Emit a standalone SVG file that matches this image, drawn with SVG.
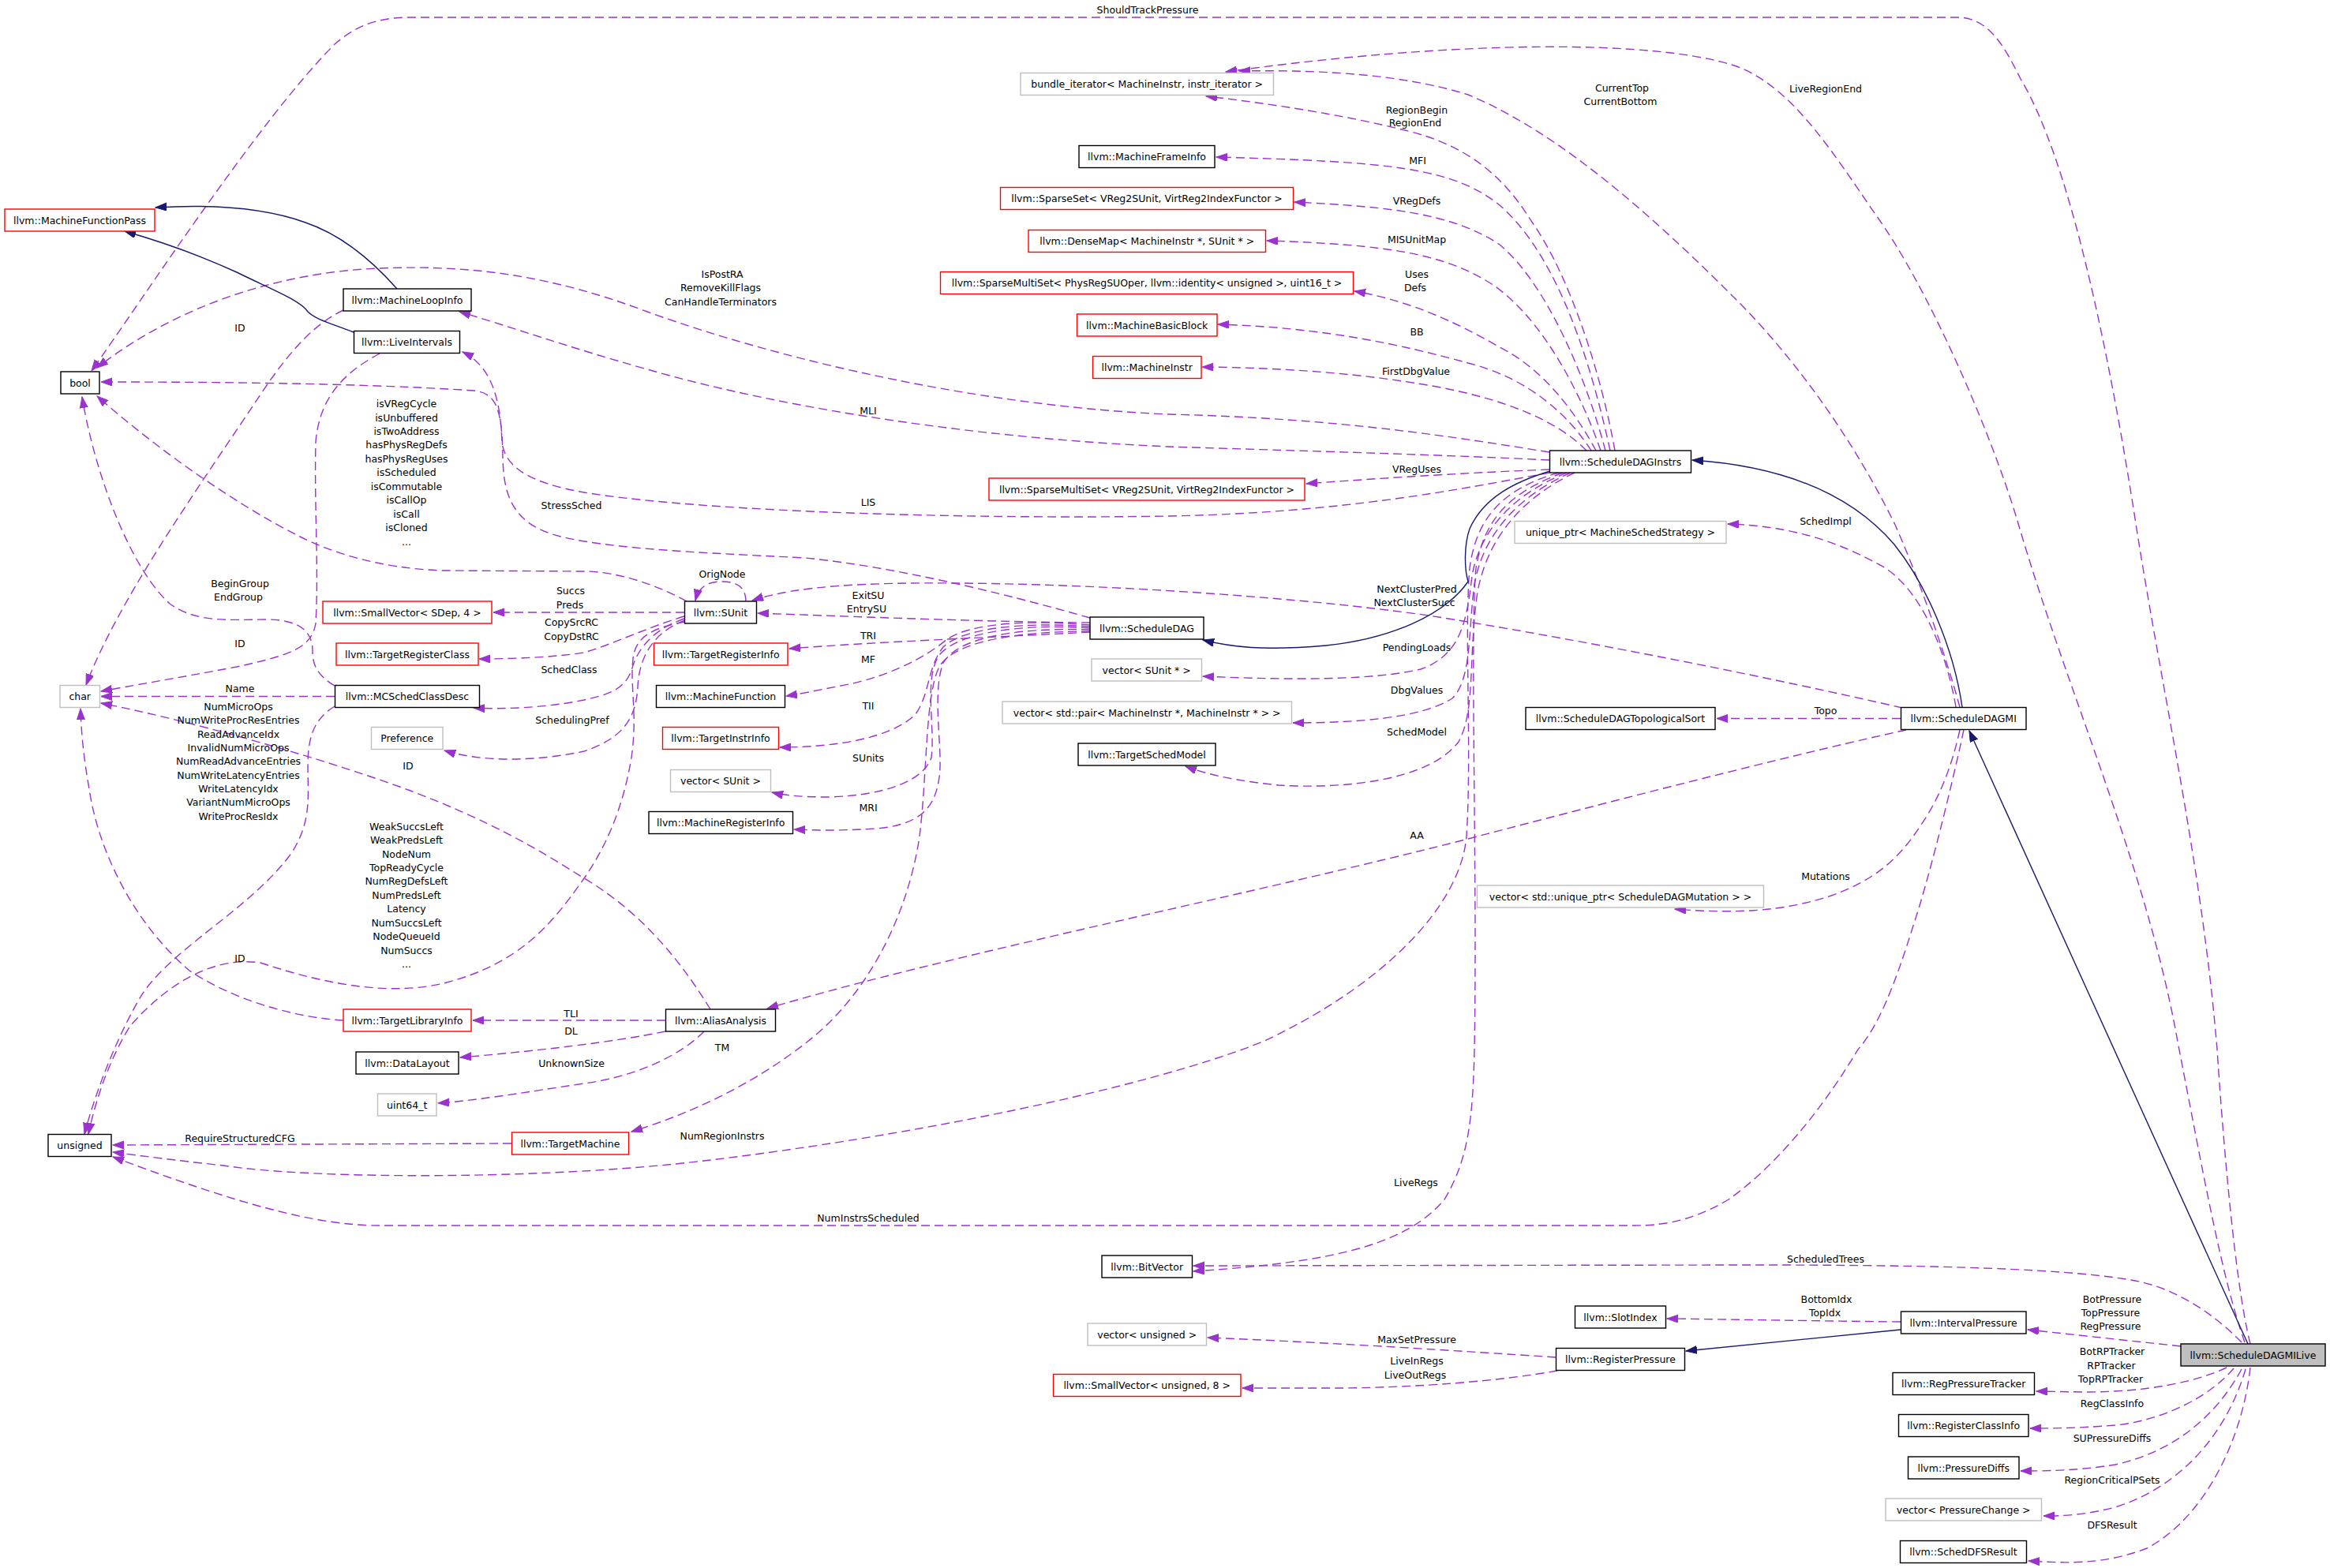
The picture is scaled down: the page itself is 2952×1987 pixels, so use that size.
<svg xmlns="http://www.w3.org/2000/svg" width="2952" height="1987" viewBox="0 0 2952 1987">
<style>
text{font-family:"DejaVu Sans","Liberation Sans",sans-serif;font-size:12.5px;fill:#000;text-anchor:middle}
rect.k{fill:#fff;stroke:#000;stroke-width:1.4}
rect.g{fill:#fff;stroke:#bfbfbf;stroke-width:1.4}
rect.r{fill:#fff;stroke:#ff0000;stroke-width:1.4}
rect.s{fill:#bfbfbf;stroke:#000;stroke-width:1.4}
#edges path.e{fill:none;stroke:#9a32cd;stroke-width:1.4;stroke-dasharray:11,6;marker-end:url(#a)}
#edges path.i{fill:none;stroke:#191970;stroke-width:1.4;marker-end:url(#b)}
</style>
<defs>
<marker id="a" markerUnits="userSpaceOnUse" markerWidth="16" markerHeight="12" refX="14" refY="5" orient="auto"><path d="M0,0 L14,5 L0,10 z" fill="#9a32cd" stroke="#9a32cd" stroke-width="1"/></marker>
<marker id="b" markerUnits="userSpaceOnUse" markerWidth="16" markerHeight="12" refX="14" refY="5" orient="auto"><path d="M0,0 L14,5 L0,10 z" fill="#191970" stroke="#191970" stroke-width="1"/></marker>
</defs>
<rect x="0" y="0" width="2952" height="1987" fill="#fff"/>
<g id="edges">
<path class="e" d="M2851,1703 C2830,1620 2815,1420 2809,1330 C2790,1100 2740,880 2707,670 C2670,430 2620,200 2560,100 C2540,60 2520,22 2480,22 L520,22 C470,22 445,38 424,56 C330,150 180,380 116,470"/>
<path class="e" d="M2844,1701 C2815,1620 2790,1480 2759,1320 C2720,1100 2620,880 2556,660 C2520,540 2440,360 2377,273 C2320,190 2270,110 2200,84 C2100,50 1850,50 1553,91"/>
<path class="e" d="M2840,1701 C2800,1660 2750,1630 2700,1622 C2600,1605 2400,1603 2212,1603 L1512,1604"/>
<path class="e" d="M2763,1706 L2569,1685"/>
<path class="e" d="M2821,1733 C2780,1752 2720,1764 2640,1764 L2580,1763"/>
<path class="e" d="M2830,1734 C2800,1770 2740,1800 2680,1806 C2630,1810 2600,1810 2572,1810"/>
<path class="e" d="M2840,1735 C2810,1790 2760,1838 2680,1856 C2630,1864 2590,1864 2560,1864"/>
<path class="e" d="M2845,1735 C2820,1820 2760,1885 2680,1910 C2640,1920 2615,1921 2589,1921"/>
<path class="e" d="M2851,1733 C2840,1830 2790,1925 2720,1962 C2660,1985 2610,1980 2570,1978"/>
<path class="e" d="M2483,896 C2465,830 2430,730 2401,665 C2340,540 2260,440 2200,380 C2100,280 1980,170 1860,120 C1780,95 1680,88 1570,90"/>
<path class="e" d="M2478,896 C2465,820 2430,740 2380,715 C2320,682 2260,666 2189,664"/>
<path class="e" d="M2410,897 C2250,860 2000,810 1810,780 C1650,757 1400,740 1212,739 C1100,738 1010,742 953,761"/>
<path class="e" d="M2408,910.5 L2175,910.5"/>
<path class="e" d="M2415,925 C2300,950 2100,1000 1860,1063 C1600,1130 1200,1210 972,1278"/>
<path class="e" d="M2483,925 C2472,975 2455,1015 2434,1045 C2405,1090 2375,1115 2320,1135 C2260,1155 2200,1158 2122,1152"/>
<path class="e" d="M2488,925 C2472,1000 2442,1120 2424,1173 C2400,1250 2380,1300 2354,1330 C2300,1420 2240,1485 2190,1520 C2140,1550 2100,1553 2070,1553 L480,1553 C400,1553 300,1525 143,1466"/>
<path class="e" d="M2046,571 C2030,480 1990,350 1940,280 C1900,215 1850,182 1780,165 C1700,145 1600,130 1528,122"/>
<path class="e" d="M2040,571 C2020,480 1980,330 1900,260 C1840,212 1760,205 1541,199"/>
<path class="e" d="M2034,571 C2010,480 1960,360 1900,310 C1840,270 1760,262 1640,256"/>
<path class="e" d="M2028,571 C2000,490 1950,400 1890,360 C1830,322 1760,310 1605,305"/>
<path class="e" d="M2022,571 C2000,530 1960,470 1900,440 C1840,405 1780,380 1716,369"/>
<path class="e" d="M2016,571 C1990,530 1940,480 1860,460 C1780,438 1680,415 1543,411"/>
<path class="e" d="M2010,571 C1970,530 1900,505 1820,490 C1720,472 1620,466 1523,465"/>
<path class="e" d="M1963,573 C1850,555 1700,530 1480,525 C1250,515 1000,460 820,395 C700,350 600,335 480,340 C350,345 220,390 123,466"/>
<path class="e" d="M1963,583 C1800,575 1600,570 1480,566 C1250,556 1000,520 820,468 C720,440 650,415 582,395"/>
<path class="e" d="M1963,595 C1880,598 1760,605 1655,613"/>
<path class="e" d="M1963,599 C1850,620 1700,650 1480,654 C1250,658 900,650 740,624 C690,615 640,600 636,560 C634,510 625,465 586,446"/>
<path class="e" d="M1985,599 C1920,625 1875,670 1865,730 C1858,790 1850,830 1800,848 C1740,862 1640,862 1524,857"/>
<path class="e" d="M1990,599 C1925,628 1880,675 1868,740 C1860,800 1865,860 1840,885 C1800,910 1720,916 1638,916"/>
<path class="e" d="M1995,599 C1930,630 1885,680 1872,750 C1860,830 1870,900 1848,940 C1810,990 1700,1000 1620,995 C1570,990 1530,982 1502,971"/>
<path class="e" d="M1975,599 C1900,620 1870,660 1862,720 C1855,800 1865,950 1858,1060 C1850,1150 1750,1250 1600,1320 C1450,1380 1150,1440 900,1470 C700,1495 400,1495 283,1477 C220,1470 180,1465 143,1460"/>
<path class="e" d="M1980,599 C1910,625 1880,660 1870,720 C1862,800 1872,1100 1868,1330 C1866,1420 1860,1470 1830,1520 C1780,1580 1680,1600 1512,1611"/>
<path class="e" d="M870,762 C830,740 780,724 740,724 L560,723 C480,720 420,700 380,680 C300,640 200,570 123,502"/>
<path class="e" d="M867,776 L625,776"/>
<path class="e" d="M867,781 C820,795 780,815 740,827 C700,833 650,835 607,835"/>
<path class="e" d="M867,784 C820,800 805,830 800,850 C790,875 770,880 740,887 C690,897 640,899 600,897"/>
<path class="e" d="M868,786 C830,800 810,830 808,870 C806,910 790,935 740,952 C680,965 610,966 563,951"/>
<path class="e" d="M868,788 C830,795 805,805 802,835 C798,870 808,905 800,960 C790,1020 770,1070 740,1113 C700,1170 660,1220 566,1245 C500,1262 420,1250 330,1220 C260,1210 200,1260 165,1300 C140,1340 122,1390 112,1437"/>
<path class="e" d="M945,762 C945,745 935,737 914,737 C895,737 885,745 881,761"/>
<path class="e" d="M1381,783 C1300,760 1150,720 1020,707 C880,700 760,695 700,677 C645,660 638,620 637,580 C636,520 630,498 600,495 C450,485 250,484 128,484"/>
<path class="e" d="M1381,789 C1250,788 1100,782 960,777"/>
<path class="e" d="M1381,801 C1250,808 1100,814 1000,822"/>
<path class="e" d="M1381,792 C1300,785 1230,790 1200,810 C1170,835 1120,860 1060,870 C1030,876 1010,880 996,882"/>
<path class="e" d="M1381,794 C1300,788 1220,795 1195,820 C1175,845 1178,880 1160,905 C1130,935 1060,947 988,947"/>
<path class="e" d="M1381,796 C1300,790 1215,800 1190,830 C1170,860 1185,920 1180,960 C1170,990 1120,1008 1050,1010 C1010,1010 990,1007 978,1004"/>
<path class="e" d="M1381,798 C1300,795 1215,805 1195,840 C1180,880 1195,950 1190,985 C1185,1020 1170,1045 1110,1050 C1060,1053 1030,1052 1006,1051"/>
<path class="e" d="M1381,800 C1300,800 1210,810 1190,845 C1172,880 1175,980 1165,1060 C1150,1160 1100,1260 1023,1320 C960,1370 880,1410 800,1434"/>
<path class="e" d="M424,869 C400,855 396,840 396,825 C396,800 380,786 340,785 C290,785 250,790 215,765 C165,720 120,600 104,503"/>
<path class="e" d="M424,882.5 L128,882.5"/>
<path class="e" d="M424,895 C400,910 390,930 390,970 C390,1010 395,1040 370,1080 C320,1150 220,1200 180,1260 C150,1310 122,1380 107,1437"/>
<path class="e" d="M435,393 C400,410 370,440 330,500 C250,620 150,760 109,868"/>
<path class="e" d="M481,448 C440,470 405,500 400,560 C398,640 404,720 400,790 C395,820 370,830 300,845 C220,860 160,870 128,876"/>
<path class="e" d="M900,1279 C870,1230 820,1160 740,1113 C680,1075 620,1040 520,1002 C420,965 250,915 128,891"/>
<path class="e" d="M843,1293 L599,1293"/>
<path class="e" d="M843,1307 C780,1320 680,1332 583,1340"/>
<path class="e" d="M892,1307 C860,1340 800,1365 740,1373 C660,1385 600,1395 555,1398"/>
<path class="e" d="M435,1293 C380,1290 300,1270 240,1230 C170,1170 125,1080 113,1000 C106,960 103,930 102,898"/>
<path class="e" d="M648,1449 L143,1451"/>
<path class="e" d="M1971,1720 C1850,1712 1700,1702 1530,1695"/>
<path class="e" d="M1973,1737 C1900,1750 1800,1758 1700,1759 L1574,1759"/>
<path class="e" d="M2408,1675 C2300,1674 2200,1672 2112,1671"/>
<path class="i" d="M503,366 C480,340 440,300 387,282 C340,265 280,258 197,263"/>
<path class="i" d="M448,421 C420,410 400,405 390,395 C380,380 340,365 300,345 C250,322 200,305 158,293"/>
<path class="i" d="M1964,597 C1920,610 1880,630 1862,670 C1855,690 1855,720 1860,737 C1830,780 1760,810 1680,818 C1600,825 1560,820 1524,811"/>
<path class="i" d="M2486,896 C2475,820 2440,740 2400,690 C2340,620 2250,590 2144,583"/>
<path class="i" d="M2848,1703 L2495,926"/>
<path class="i" d="M2408,1685 C2300,1695 2200,1705 2136,1712"/>
</g>
<g id="labels">
<text x="1454" y="17">ShouldTrackPressure</text>
<text x="2313" y="117">LiveRegionEnd</text>
<text><tspan x="2055" y="116">CurrentTop</tspan><tspan x="2053" y="133">CurrentBottom</tspan></text>
<text><tspan x="1795" y="143.5">RegionBegin</tspan><tspan x="1793" y="160">RegionEnd</tspan></text>
<text x="1796" y="208">MFI</text>
<text x="1795" y="259">VRegDefs</text>
<text x="1795" y="308">MISUnitMap</text>
<text><tspan x="1795" y="352">Uses</tspan><tspan x="1793" y="369">Defs</tspan></text>
<text x="1795" y="425">BB</text>
<text x="1794" y="475">FirstDbgValue</text>
<text><tspan x="915" y="352">IsPostRA</tspan><tspan x="913" y="369">RemoveKillFlags</tspan><tspan x="913" y="387">CanHandleTerminators</tspan></text>
<text x="1100" y="525">MLI</text>
<text x="1795" y="599">VRegUses</text>
<text x="1100" y="641">LIS</text>
<text x="724" y="645">StressSched</text>
<text x="304" y="420">ID</text>
<text><tspan x="515" y="516">isVRegCycle</tspan><tspan x="515" y="533.5">isUnbuffered</tspan><tspan x="515" y="551">isTwoAddress</tspan><tspan x="515" y="568.4">hasPhysRegDefs</tspan><tspan x="515" y="585.8">hasPhysRegUses</tspan><tspan x="515" y="603.3">isScheduled</tspan><tspan x="515" y="620.7">isCommutable</tspan><tspan x="515" y="638.2">isCallOp</tspan><tspan x="515" y="655.6">isCall</tspan><tspan x="515" y="673">isCloned</tspan><tspan x="515" y="690.5">...</tspan></text>
<text x="915" y="732">OrigNode</text>
<text x="2313" y="665">SchedImpl</text>
<text><tspan x="1795" y="751">NextClusterPred</tspan><tspan x="1792" y="768">NextClusterSucc</tspan></text>
<text><tspan x="1100" y="759">ExitSU</tspan><tspan x="1098" y="776">EntrySU</tspan></text>
<text><tspan x="304" y="744">BeginGroup</tspan><tspan x="302" y="761">EndGroup</tspan></text>
<text><tspan x="723" y="753">Succs</tspan><tspan x="722" y="771">Preds</tspan></text>
<text><tspan x="724" y="793">CopySrcRC</tspan><tspan x="724" y="811">CopyDstRC</tspan></text>
<text x="1100" y="809.5">TRI</text>
<text x="304" y="820">ID</text>
<text x="1795" y="825">PendingLoads</text>
<text x="721" y="852.5">SchedClass</text>
<text x="1100" y="840">MF</text>
<text x="304" y="877">Name</text>
<text x="1795" y="879">DbgValues</text>
<text><tspan x="302" y="900">NumMicroOps</tspan><tspan x="302" y="917">NumWriteProcResEntries</tspan><tspan x="302" y="935">ReadAdvanceIdx</tspan><tspan x="302" y="952">InvalidNumMicroOps</tspan><tspan x="302" y="969">NumReadAdvanceEntries</tspan><tspan x="302" y="987">NumWriteLatencyEntries</tspan><tspan x="302" y="1004">WriteLatencyIdx</tspan><tspan x="302" y="1021">VariantNumMicroOps</tspan><tspan x="302" y="1039">WriteProcResIdx</tspan></text>
<text x="1100" y="899">TII</text>
<text x="2313" y="905">Topo</text>
<text x="725" y="916.5">SchedulingPref</text>
<text x="1795" y="931.5">SchedModel</text>
<text x="1100" y="965">SUnits</text>
<text x="517" y="975">ID</text>
<text x="1100" y="1028">MRI</text>
<text><tspan x="515" y="1051.7">WeakSuccsLeft</tspan><tspan x="515" y="1069">WeakPredsLeft</tspan><tspan x="515" y="1086.5">NodeNum</tspan><tspan x="515" y="1104">TopReadyCycle</tspan><tspan x="515" y="1121.4">NumRegDefsLeft</tspan><tspan x="515" y="1138.8">NumPredsLeft</tspan><tspan x="515" y="1156.2">Latency</tspan><tspan x="515" y="1173.7">NumSuccsLeft</tspan><tspan x="515" y="1191">NodeQueueId</tspan><tspan x="515" y="1208.5">NumSuccs</tspan><tspan x="515" y="1226">...</tspan></text>
<text x="1795" y="1063">AA</text>
<text x="2313" y="1115">Mutations</text>
<text x="304" y="1219">ID</text>
<text x="723.5" y="1288.5">TLI</text>
<text x="723.5" y="1311">DL</text>
<text x="915" y="1331.5">TM</text>
<text x="724" y="1351.5">UnknownSize</text>
<text x="915" y="1444">NumRegionInstrs</text>
<text x="304" y="1447">RequireStructuredCFG</text>
<text x="1794" y="1503">LiveRegs</text>
<text x="1100" y="1548">NumInstrsScheduled</text>
<text x="2313" y="1600">ScheduledTrees</text>
<text><tspan x="2314" y="1650.5">BottomIdx</tspan><tspan x="2312" y="1668">TopIdx</tspan></text>
<text><tspan x="2676" y="1650.5">BotPressure</tspan><tspan x="2674" y="1668">TopPressure</tspan><tspan x="2674" y="1685">RegPressure</tspan></text>
<text x="1795" y="1701.5">MaxSetPressure</text>
<text><tspan x="2676" y="1717">BotRPTracker</tspan><tspan x="2675" y="1735">RPTracker</tspan><tspan x="2674" y="1752">TopRPTracker</tspan></text>
<text><tspan x="1795" y="1729">LiveInRegs</tspan><tspan x="1793" y="1747">LiveOutRegs</tspan></text>
<text x="2676" y="1783">RegClassInfo</text>
<text x="2676" y="1827">SUPressureDiffs</text>
<text x="2676" y="1880">RegionCriticalPSets</text>
<text x="2676" y="1936.5">DFSResult</text>
</g>
<g id="n_bool"><rect class="k" x="77" y="471" width="49" height="28"/><text x="101.5" y="489.5">bool</text></g>
<g id="n_char"><rect class="g" x="76" y="868.5" width="50.5" height="28"/><text x="101.2" y="887">char</text></g>
<g id="n_unsigned"><rect class="k" x="61" y="1437.5" width="80" height="28"/><text x="101" y="1456">unsigned</text></g>
<g id="n_mfp"><rect class="r" x="6" y="265" width="190" height="28"/><text x="101" y="283.5">llvm::MachineFunctionPass</text></g>
<g id="n_mli"><rect class="k" x="435" y="366" width="162" height="28"/><text x="516" y="384.5">llvm::MachineLoopInfo</text></g>
<g id="n_li"><rect class="k" x="448.5" y="419.5" width="134" height="28"/><text x="515.5" y="438">llvm::LiveIntervals</text></g>
<g id="n_smallvec_sdep"><rect class="r" x="409" y="762" width="214" height="28"/><text x="516" y="780.5">llvm::SmallVector&lt; SDep, 4 &gt;</text></g>
<g id="n_trc"><rect class="r" x="426" y="815" width="180" height="28"/><text x="516" y="833.5">llvm::TargetRegisterClass</text></g>
<g id="n_mcscd"><rect class="k" x="424.5" y="868.5" width="183" height="28"/><text x="516" y="887">llvm::MCSchedClassDesc</text></g>
<g id="n_pref"><rect class="g" x="470.5" y="921.5" width="90.5" height="28"/><text x="515.7" y="940">Preference</text></g>
<g id="n_tli"><rect class="r" x="435" y="1279" width="162" height="28"/><text x="516" y="1297.5">llvm::TargetLibraryInfo</text></g>
<g id="n_dl"><rect class="k" x="451" y="1333" width="130" height="28"/><text x="516" y="1351.5">llvm::DataLayout</text></g>
<g id="n_uint64"><rect class="g" x="478.5" y="1386" width="74.5" height="28"/><text x="515.7" y="1404.5">uint64_t</text></g>
<g id="n_tm"><rect class="r" x="648.5" y="1435" width="148" height="28"/><text x="722.5" y="1453.5">llvm::TargetMachine</text></g>
<g id="n_sunit"><rect class="k" x="867.5" y="762" width="91" height="28"/><text x="913" y="780.5">llvm::SUnit</text></g>
<g id="n_tri"><rect class="r" x="828.5" y="815" width="169.5" height="28"/><text x="913.2" y="833.5">llvm::TargetRegisterInfo</text></g>
<g id="n_mf"><rect class="k" x="831.5" y="868.5" width="163" height="28"/><text x="913" y="887">llvm::MachineFunction</text></g>
<g id="n_tii"><rect class="r" x="839.5" y="921.5" width="147" height="28"/><text x="913" y="940">llvm::TargetInstrInfo</text></g>
<g id="n_vecsunit"><rect class="g" x="849.5" y="975.5" width="127" height="28"/><text x="913" y="994">vector&lt; SUnit &gt;</text></g>
<g id="n_mri"><rect class="k" x="822" y="1028.5" width="182.5" height="28"/><text x="913.2" y="1047">llvm::MachineRegisterInfo</text></g>
<g id="n_aa"><rect class="k" x="843.5" y="1279" width="139" height="28"/><text x="913" y="1297.5">llvm::AliasAnalysis</text></g>
<g id="n_bundle"><rect class="g" x="1293" y="92.5" width="320.5" height="28"/><text x="1453.2" y="111">bundle_iterator&lt; MachineInstr, instr_iterator &gt;</text></g>
<g id="n_mfi"><rect class="k" x="1367" y="184.5" width="172" height="28"/><text x="1453" y="203">llvm::MachineFrameInfo</text></g>
<g id="n_sparseset"><rect class="r" x="1267.5" y="237.5" width="371" height="28"/><text x="1453" y="256">llvm::SparseSet&lt; VReg2SUnit, VirtReg2IndexFunctor &gt;</text></g>
<g id="n_densemap"><rect class="r" x="1303" y="291.5" width="300.5" height="28"/><text x="1453.2" y="310">llvm::DenseMap&lt; MachineInstr *, SUnit * &gt;</text></g>
<g id="n_sms_phys"><rect class="r" x="1191.5" y="344.5" width="523" height="28"/><text x="1453" y="363">llvm::SparseMultiSet&lt; PhysRegSUOper, llvm::identity&lt; unsigned &gt;, uint16_t &gt;</text></g>
<g id="n_mbb"><rect class="r" x="1364.5" y="398" width="177.5" height="28"/><text x="1453.2" y="416.5">llvm::MachineBasicBlock</text></g>
<g id="n_mi"><rect class="r" x="1384.5" y="451.5" width="137.5" height="28"/><text x="1453.2" y="470">llvm::MachineInstr</text></g>
<g id="n_sms_vreg"><rect class="r" x="1253" y="606" width="400" height="28"/><text x="1453" y="624.5">llvm::SparseMultiSet&lt; VReg2SUnit, VirtReg2IndexFunctor &gt;</text></g>
<g id="n_sdi"><rect class="k" x="1963.5" y="571" width="179" height="28"/><text x="2053" y="589.5">llvm::ScheduleDAGInstrs</text></g>
<g id="n_uniqsched"><rect class="g" x="1919" y="660.5" width="268" height="28"/><text x="2053" y="679">unique_ptr&lt; MachineSchedStrategy &gt;</text></g>
<g id="n_sd"><rect class="k" x="1381" y="782" width="144" height="28"/><text x="1453" y="800.5">llvm::ScheduleDAG</text></g>
<g id="n_vecsunitptr"><rect class="g" x="1383" y="835" width="139.5" height="28"/><text x="1452.7" y="853.5">vector&lt; SUnit * &gt;</text></g>
<g id="n_vecpair"><rect class="g" x="1270" y="889" width="366.5" height="28"/><text x="1453.2" y="907.5">vector&lt; std::pair&lt; MachineInstr *, MachineInstr * &gt; &gt;</text></g>
<g id="n_tsm"><rect class="k" x="1366" y="942" width="174" height="28"/><text x="1453" y="960.5">llvm::TargetSchedModel</text></g>
<g id="n_topo"><rect class="k" x="1933" y="896.5" width="240" height="28"/><text x="2053" y="915">llvm::ScheduleDAGTopologicalSort</text></g>
<g id="n_vecmut"><rect class="g" x="1871.5" y="1122" width="363" height="28"/><text x="2053" y="1140.5">vector&lt; std::unique_ptr&lt; ScheduleDAGMutation &gt; &gt;</text></g>
<g id="n_sdmi"><rect class="k" x="2408.5" y="896.5" width="158.5" height="28"/><text x="2487.7" y="915">llvm::ScheduleDAGMI</text></g>
<g id="n_bitvector"><rect class="k" x="1396" y="1591" width="114.5" height="28"/><text x="1453.2" y="1609.5">llvm::BitVector</text></g>
<g id="n_vecunsigned"><rect class="g" x="1378" y="1677" width="150.5" height="28"/><text x="1453.2" y="1695.5">vector&lt; unsigned &gt;</text></g>
<g id="n_smallvec_u8"><rect class="r" x="1334.5" y="1741.5" width="237.5" height="28"/><text x="1453.2" y="1760">llvm::SmallVector&lt; unsigned, 8 &gt;</text></g>
<g id="n_slotindex"><rect class="k" x="1995.5" y="1655" width="115" height="28"/><text x="2053" y="1673.5">llvm::SlotIndex</text></g>
<g id="n_rp"><rect class="k" x="1971.5" y="1708.5" width="163" height="28"/><text x="2053" y="1727">llvm::RegisterPressure</text></g>
<g id="n_ip"><rect class="k" x="2408.5" y="1662" width="158.5" height="28"/><text x="2487.7" y="1680.5">llvm::IntervalPressure</text></g>
<g id="n_rpt"><rect class="k" x="2398" y="1739.5" width="179.5" height="28"/><text x="2487.7" y="1758">llvm::RegPressureTracker</text></g>
<g id="n_rci"><rect class="k" x="2405.5" y="1792.5" width="164.5" height="28"/><text x="2487.7" y="1811">llvm::RegisterClassInfo</text></g>
<g id="n_pd"><rect class="k" x="2417.5" y="1846" width="140.5" height="28"/><text x="2487.7" y="1864.5">llvm::PressureDiffs</text></g>
<g id="n_vecpc"><rect class="g" x="2389" y="1899" width="197.5" height="28"/><text x="2487.7" y="1917.5">vector&lt; PressureChange &gt;</text></g>
<g id="n_dfs"><rect class="k" x="2407.5" y="1952.5" width="160" height="28"/><text x="2487.5" y="1971">llvm::SchedDFSResult</text></g>
<g id="n_sdmilive"><rect class="s" x="2763" y="1703" width="183" height="28"/><text x="2854.5" y="1721.5">llvm::ScheduleDAGMILive</text></g>
</svg>
